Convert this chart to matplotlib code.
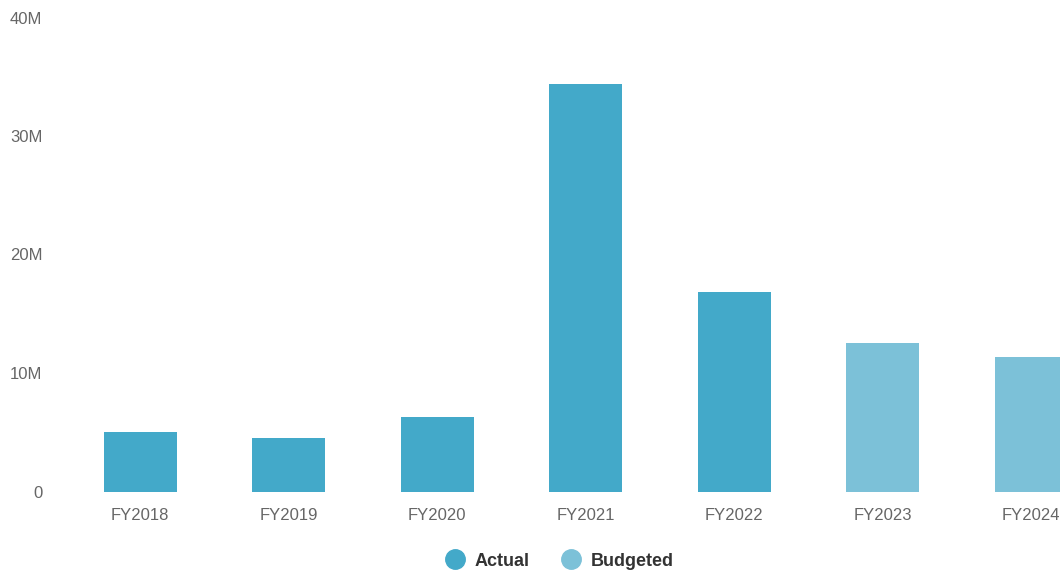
import matplotlib
matplotlib.use("Agg")
import matplotlib.pyplot as plt
from matplotlib.lines import Line2D
from matplotlib.ticker import FuncFormatter

plt.rcParams['font.family'] = ['Liberation Sans', 'DejaVu Sans']

# data (millions)
years = ["FY2018", "FY2019", "FY2020", "FY2021", "FY2022", "FY2023", "FY2024"]
values = [5.0, 4.5, 6.3, 34.4, 16.8, 12.5, 11.35]
kinds = ["Actual", "Actual", "Actual", "Actual", "Actual", "Budgeted", "Budgeted"]

colors = {"Actual": "#43a9c9", "Budgeted": "#7cc1d8"}

fig = plt.figure(figsize=(10.6, 5.74), dpi=100)
# axes intentionally runs past the right edge, last bar is clipped like the original
ax = fig.add_axes([66 / 1060, 82.5 / 574, 1039.5 / 1060, 474 / 574])

xs = range(len(years))
ax.bar(xs, [v * 1e6 for v in values], width=0.49,
       color=[colors[k] for k in kinds])

ax.set_xlim(-0.5, len(years) - 0.5)
ax.set_ylim(0, 40e6)
ax.set_yticks([0, 10e6, 20e6, 30e6, 40e6])
ax.yaxis.set_major_formatter(FuncFormatter(lambda v, p: "0" if v == 0 else f"{v / 1e6:.0f}M"))
ax.set_xticks(list(xs))
ax.set_xticklabels(years)

for s in ax.spines.values():
    s.set_visible(False)
ax.tick_params(axis="both", length=0, labelsize=12, labelcolor="#666666")
ax.tick_params(axis="y", pad=17)
ax.tick_params(axis="x", pad=12)

handles = [Line2D([], [], marker="o", linestyle="", markersize=14,
                  markerfacecolor=colors[k], markeredgecolor=colors[k], label=k)
           for k in ["Actual", "Budgeted"]]
leg = fig.legend(handles=handles, loc="center", bbox_to_anchor=(555 / 1060, 13 / 574),
                 ncol=2, frameon=False, handletextpad=0.1, columnspacing=1.27,
                 prop={"weight": "bold", "size": 13})
for t in leg.get_texts():
    t.set_color("#333333")

fig.savefig("out.png", dpi=100)
